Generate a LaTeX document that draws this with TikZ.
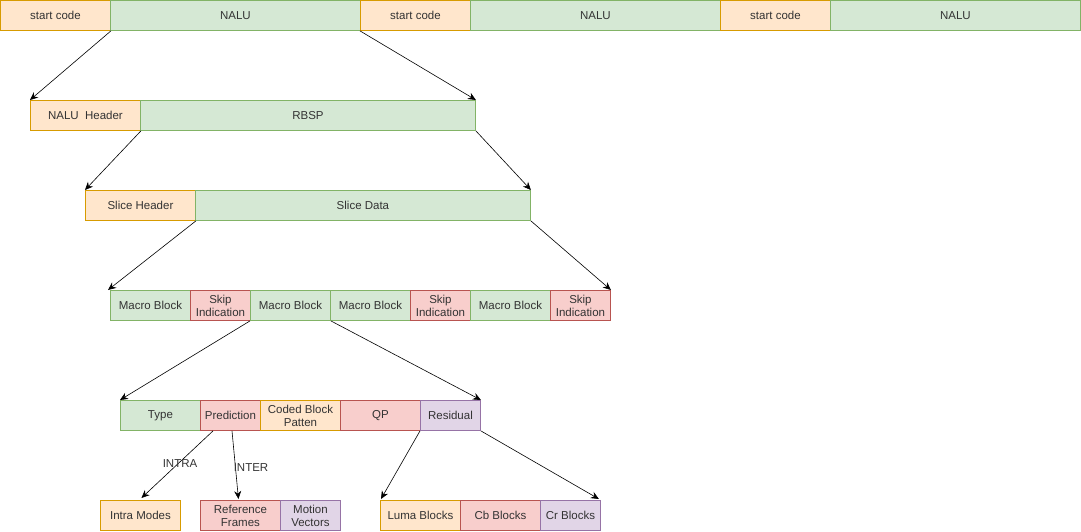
\documentclass[tikz,border=0pt]{standalone}
\usepackage{fontspec}
\setmainfont{Liberation Sans}
\usetikzlibrary{arrows.meta,calc}
\definecolor{ofill}{HTML}{FFE6CC}\definecolor{oline}{HTML}{D79B00}
\definecolor{gfill}{HTML}{D5E8D4}\definecolor{gline}{HTML}{82B366}
\definecolor{rfill}{HTML}{F8CECC}\definecolor{rline}{HTML}{B85450}
\definecolor{pfill}{HTML}{E1D5E7}\definecolor{pline}{HTML}{9673A6}
\definecolor{txt}{HTML}{333333}
\tikzset{
  cell/.style={draw, line width=0.9pt, anchor=north west, minimum height=30pt, inner sep=0pt,
    text=txt, align=center, font=\fontsize{11.5}{13}\selectfont},
  orng/.style={cell, fill=ofill, draw=oline},
  grn/.style={cell, fill=gfill, draw=gline},
  red/.style={cell, fill=rfill, draw=rline},
  prp/.style={cell, fill=pfill, draw=pline},
  w/.style={minimum width=#1pt},
  arr/.style={-{Stealth[length=8pt,width=7pt]}, line width=0.6pt, black},
  lbl/.style={text=txt, font=\fontsize{11.5}{13}\selectfont, inner sep=0pt}
}
\begin{document}
\begin{tikzpicture}[x=1pt,y=-1pt]
\useasboundingbox (0,0) rectangle (1081,531);
% row 1
\node[orng,w=110] (sc1) at (0,0) {start code};
\node[grn,w=250] (na1) at (110,0) {NALU};
\node[orng,w=110] (sc2) at (360,0) {start code};
\node[grn,w=250] (na2) at (470,0) {NALU};
\node[orng,w=110] (sc3) at (720,0) {start code};
\node[grn,w=250] (na3) at (830,0) {NALU};
% row 2
\node[orng,w=110] (nh) at (30,100) {NALU\ \ Header};
\node[grn,w=335] (rbsp) at (140,100) {RBSP};
% row 3
\node[orng,w=110] (sh) at (85,190) {Slice Header};
\node[grn,w=335] (sd) at (195,190) {Slice Data};
% row 4
\node[grn,w=80] (mb1) at (110,290) {Macro Block};
\node[red,w=60] (sk1) at (190,290) {Skip\\Indication};
\node[grn,w=80] (mb2) at (250,290) {Macro Block};
\node[grn,w=80] (mb3) at (330,290) {Macro Block};
\node[red,w=60] (sk2) at (410,290) {Skip\\Indication};
\node[grn,w=80] (mb4) at (470,290) {Macro Block};
\node[red,w=60] (sk3) at (550,290) {Skip\\Indication};
% row 5
\node[grn,w=80] (type) at (120,400) {Type};
\node[red,w=60] (pred) at (200,400) {Prediction};
\node[orng,w=80] (cbp) at (260,400) {Coded Block\\Patten};
\node[red,w=80] (qp) at (340,400) {QP};
\node[prp,w=60] (res) at (420,400) {Residual};
% row 6
\node[orng,w=80] (im) at (100,500) {Intra Modes};
\node[red,w=80] (rf) at (200,500) {Reference\\Frames};
\node[prp,w=60] (mv) at (280,500) {Motion\\Vectors};
\node[orng,w=80] (luma) at (380,500) {Luma Blocks};
\node[red,w=80] (cb) at (460,500) {Cb Blocks};
\node[prp,w=60] (cr) at (540,500) {Cr Blocks};
% connectors
\draw[arr] (sc1.south east) -- (nh.north west);
\draw[arr] (sc2.south west) -- (rbsp.north east);
\draw[arr] (nh.south east) -- (sh.north west);
\draw[arr] (rbsp.south east) -- (sd.north east);
\draw[arr] (sh.south east) -- ($(mb1.north west)+(-2,0)$);
\draw[arr] (sd.south east) -- (sk3.north east);
\draw[arr] (mb2.south west) -- (type.north west);
\draw[arr] (mb2.south east) -- (res.north east);
\draw[arr] ($(pred.south west)+(13,0)$) -- ($(im.north)+(1,-2)$);
\draw[arr] ($(pred.south west)+(32,0)$) -- ($(rf.north)+(-2,-1)$);
\draw[arr] (res.south west) -- ($(luma.north west)+(1,-1)$);
\draw[arr] (res.south east) -- ($(cr.north east)+(-2,-1)$);
\node[lbl] (intra) at (180,464) {INTRA};
\node[lbl] (inter) at (251,468) {INTER};
\end{tikzpicture}
\end{document}
